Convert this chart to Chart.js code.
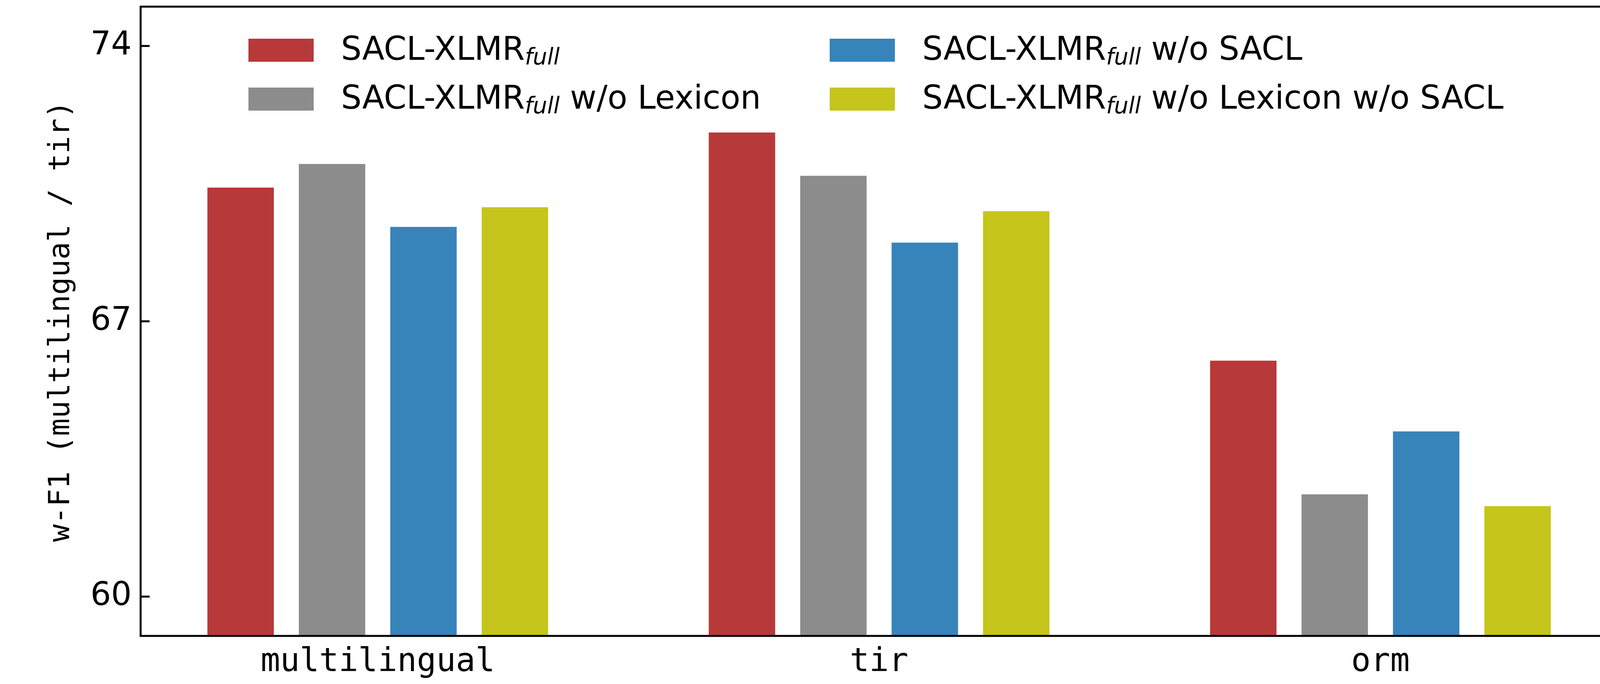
<!DOCTYPE html>
<html lang="en">
<head>
    <meta charset="UTF-8">
    <title>w-F1 ablation</title>
    <script src="https://cdn.jsdelivr.net/npm/chart.js@4"></script>
    <style>
        body {
            margin: 0;
            background: #ffffff;
        }
        .wrap {
            position: relative;
            width: 4500px;
            height: 1750px;
        }
        .wrap canvas {
            position: absolute;
            left: 0;
            top: 0;
        }
        .legend-item {
            position: absolute;
            display: flex;
            align-items: center;
            height: 59px;
            font-family: 'DejaVu Sans', sans-serif;
            font-size: 83px;
            line-height: 1;
            white-space: nowrap;
            color: #000;
        }
        .legend-item .swatch {
            flex: none;
            width: 167px;
            height: 59px;
            margin-right: 70px;
        }
        .legend-item sub {
            font-size: 58px;
            font-style: italic;
            line-height: 1;
            vertical-align: -12px;
        }
    </style>
</head>
<body>
    <div class="wrap" id="wrap">
        <canvas id="ablationChart" width="4500" height="1750"></canvas>
    </div>

    <script>
        const categories = ['multilingual', 'tir', 'orm'];
        const rightAxisCategories = ['orm'];

        const seriesNames = [
            'SACL-XLMR_full',
            'SACL-XLMR_full w/o Lexicon',
            'SACL-XLMR_full w/o SACL',
            'SACL-XLMR_full w/o Lexicon w/o SACL'
        ];
        const seriesColors = ['#B8393A', '#8C8C8C', '#3784BB', '#C5C51B'];

        // values per category: multilingual, tir, orm
        const fullScores = [70.4, 71.8, 46.0];
        const noLexiconScores = [71.0, 70.7, 42.6];
        const noSaclScores = [69.4, 69.0, 44.2];
        const noBothScores = [69.9, 69.8, 42.3];
        const seriesValues = [fullScores, noLexiconScores, noSaclScores, noBothScores];

        const leftTicks = [60, 67, 74];
        const rightTicks = [40, 47, 54];

        const monoFont = "'DejaVu Sans Mono', monospace";
        const sansFont = "'DejaVu Sans', sans-serif";

        // left axis datasets (multilingual / tir) and right axis datasets (orm)
        const datasets = [];
        ['y', 'y1'].forEach(axisId => {
            seriesNames.forEach((name, s) => {
                const points = [];
                categories.forEach((cat, i) => {
                    const onRight = rightAxisCategories.includes(cat);
                    if ((axisId === 'y1') === onRight) {
                        points.push({ x: i, y: seriesValues[s][i] });
                    }
                });
                datasets.push({
                    label: name,
                    data: points,
                    yAxisID: axisId,
                    backgroundColor: seriesColors[s],
                    borderWidth: 0,
                    skipNull: true,
                    categoryPercentage: 0.7295,
                    barPercentage: 0.7265
                });
            });
        });

        // fixed axis boxes so the plot area lands where the original has it
        function fixBox(size) {
            return scale => {
                if (scale.isHorizontal()) {
                    scale.height = size;
                } else {
                    scale.width = size;
                }
                scale.paddingTop = 0;
                scale.paddingBottom = 0;
                scale.paddingLeft = 0;
                scale.paddingRight = 0;
            };
        }

        // frame, inward ticks and right-hand title
        const framePlugin = {
            id: 'frame',
            afterDraw(chart) {
                const { ctx, chartArea: a } = chart;
                ctx.save();
                ctx.strokeStyle = '#000';
                ctx.lineWidth = 5;
                ctx.strokeRect(a.left, a.top, a.right - a.left, a.bottom - a.top);
                leftTicks.forEach(v => {
                    const y = chart.scales.y.getPixelForValue(v);
                    ctx.beginPath();
                    ctx.moveTo(a.left, y);
                    ctx.lineTo(a.left + 23, y);
                    ctx.stroke();
                });
                rightTicks.forEach(v => {
                    const y = chart.scales.y1.getPixelForValue(v);
                    ctx.beginPath();
                    ctx.moveTo(a.right - 23, y);
                    ctx.lineTo(a.right, y);
                    ctx.stroke();
                });
                ctx.fillStyle = '#000';
                ctx.font = '75px ' + monoFont;
                ctx.textAlign = 'center';
                ctx.textBaseline = 'middle';
                ctx.translate(4340, (a.top + a.bottom) / 2);
                ctx.rotate(-Math.PI / 2);
                ctx.fillText('w-F1 (orm)', 0, 0);
                ctx.restore();
            }
        };

        const ctx = document.getElementById('ablationChart').getContext('2d');
        new Chart(ctx, {
            type: 'bar',
            data: { datasets },
            options: {
                responsive: false,
                animation: false,
                devicePixelRatio: 1,
                layout: { padding: { top: 17, left: 0, right: 0, bottom: 0 } },
                plugins: {
                    legend: { display: false },
                    tooltip: { enabled: false }
                },
                scales: {
                    x: {
                        type: 'linear',
                        offset: false,
                        min: -0.473,
                        max: 2.473,
                        grid: { display: false, drawTicks: false, offset: false },
                        border: { display: false },
                        afterBuildTicks: scale => {
                            scale.ticks = categories.map((c, i) => ({ value: i }));
                        },
                        afterFit: fixBox(123),
                        ticks: {
                            autoSkip: false,
                            maxRotation: 0,
                            padding: 19,
                            color: '#000',
                            font: { family: monoFont, size: 83 },
                            callback: value => categories[value]
                        }
                    },
                    y: {
                        position: 'left',
                        min: 59,
                        max: 75,
                        stacked: false,
                        grid: { display: false, drawTicks: false },
                        border: { display: false },
                        afterBuildTicks: scale => {
                            scale.ticks = leftTicks.map(v => ({ value: v }));
                        },
                        afterFit: fixBox(360),
                        ticks: {
                            padding: 23,
                            color: '#000',
                            font: { family: sansFont, size: 83 }
                        },
                        title: {
                            display: true,
                            text: 'w-F1 (multilingual / tir)',
                            color: '#000',
                            font: { family: monoFont, size: 75 },
                            padding: { top: 113, bottom: 0 }
                        }
                    },
                    y1: {
                        position: 'right',
                        min: 39,
                        max: 55,
                        stacked: false,
                        grid: { display: false, drawTicks: false },
                        border: { display: false },
                        afterBuildTicks: scale => {
                            scale.ticks = rightTicks.map(v => ({ value: v }));
                        },
                        afterFit: fixBox(359),
                        ticks: {
                            padding: 19,
                            color: '#000',
                            font: { family: sansFont, size: 83 }
                        }
                    }
                }
            },
            plugins: [framePlugin]
        });

        // legend with italic subscript, two columns filled top to bottom
        const legendCols = [636, 2124];
        const legendRows = [99, 224];
        const wrap = document.getElementById('wrap');
        seriesNames.forEach((name, s) => {
            const item = document.createElement('div');
            item.className = 'legend-item';
            item.style.left = legendCols[Math.floor(s / 2)] + 'px';
            item.style.top = legendRows[s % 2] + 'px';
            const swatch = document.createElement('span');
            swatch.className = 'swatch';
            swatch.style.background = seriesColors[s];
            item.appendChild(swatch);
            const text = document.createElement('span');
            const parts = name.split('_full');
            text.appendChild(document.createTextNode(parts[0]));
            const sub = document.createElement('sub');
            sub.textContent = 'full';
            text.appendChild(sub);
            text.appendChild(document.createTextNode(parts[1]));
            item.appendChild(text);
            wrap.appendChild(item);
        });
    </script>
</body>
</html>
